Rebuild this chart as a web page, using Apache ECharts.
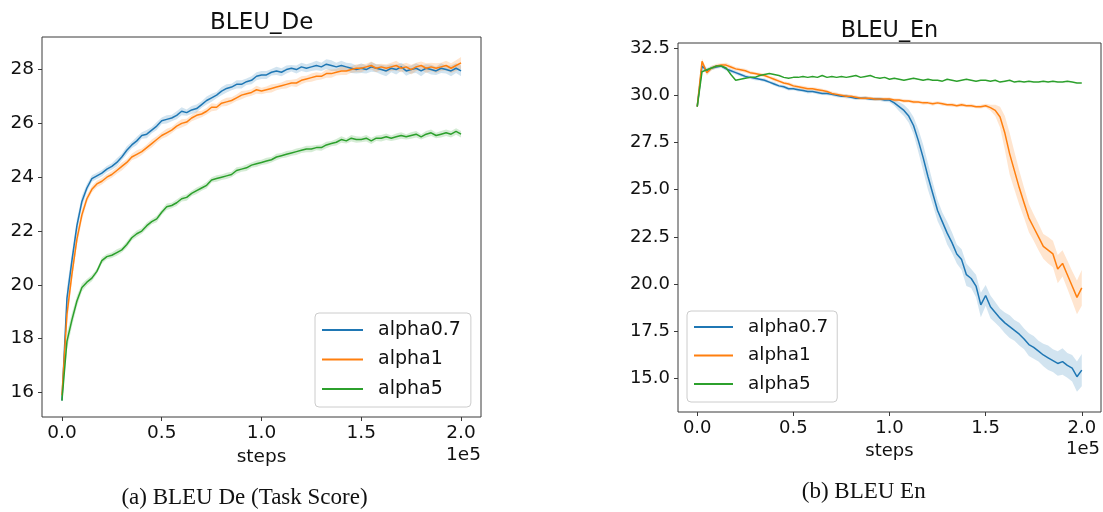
<!DOCTYPE html>
<html>
<head>
<meta charset="utf-8">
<title>BLEU De / BLEU En</title>
<script src="https://cdn.jsdelivr.net/npm/echarts@6/dist/echarts.min.js"></script>
<style>
  html, body { margin: 0; padding: 0; background: #fff; }
  #chart { width: 1103px; height: 512px; }
</style>
</head>
<body>
<div id="chart"></div>
<script>
// training steps, one sample every 2500 steps
const steps = [0, 2500, 5000, 7500, 10000, 12500, 15000, 17500, 20000, 22500,
  25000, 27500, 30000, 32500, 35000, 37500, 40000, 42500, 45000, 47500,
  50000, 52500, 55000, 57500, 60000, 62500, 65000, 67500, 70000, 72500,
  75000, 77500, 80000, 82500, 85000, 87500, 90000, 92500, 95000, 97500,
  100000, 102500, 105000, 107500, 110000, 112500, 115000, 117500, 120000, 122500,
  125000, 127500, 130000, 132500, 135000, 137500, 140000, 142500, 145000, 147500,
  150000, 152500, 155000, 157500, 160000, 162500, 165000, 167500, 170000, 172500,
  175000, 177500, 180000, 182500, 185000, 187500, 190000, 192500, 195000, 197500, 200000]

const seriesNames = ['alpha0.7', 'alpha1', 'alpha5']
const xTicks = [0, 50000, 100000, 150000, 200000]
const deTicks = [16, 18, 20, 22, 24, 26, 28]
const enTicks = [15, 17.5, 20, 22.5, 25, 27.5, 30, 32.5]

// BLEU_De
const deBlue = [15.7, 19.5, 20.9, 22.2, 23.1, 23.6, 23.95, 24.05, 24.15, 24.3,
  24.4, 24.55, 24.75, 25.0, 25.2, 25.35, 25.55, 25.6, 25.75, 25.9,
  26.1, 26.15, 26.2, 26.3, 26.45, 26.4, 26.5, 26.55, 26.7, 26.85,
  26.95, 27.05, 27.2, 27.3, 27.35, 27.45, 27.45, 27.55, 27.6, 27.75,
  27.8, 27.8, 27.9, 27.95, 27.9, 28.0, 28.05, 28.0, 28.1, 28.05,
  28.1, 28.15, 28.1, 28.2, 28.15, 28.1, 28.15, 28.1, 28.05, 28.0,
  28.05, 28.0, 28.1, 28.05, 28.0, 27.95, 28.05, 28.0, 28.1, 27.95,
  28.0, 28.05, 27.95, 28.05, 28.0, 27.95, 28.05, 28.0, 27.95, 28.05, 27.95]
const deOrange = [15.9, 18.9, 20.4, 21.7, 22.6, 23.2, 23.55, 23.75, 23.85, 24.0,
  24.1, 24.25, 24.4, 24.55, 24.75, 24.85, 24.95, 25.1, 25.25, 25.4,
  25.55, 25.65, 25.75, 25.9, 26.0, 26.05, 26.2, 26.3, 26.35, 26.45,
  26.6, 26.6, 26.75, 26.8, 26.85, 26.95, 27.05, 27.1, 27.15, 27.25,
  27.2, 27.25, 27.3, 27.35, 27.4, 27.45, 27.5, 27.5, 27.6, 27.65,
  27.7, 27.75, 27.75, 27.85, 27.85, 27.9, 27.95, 27.95, 28.0, 28.05,
  28.05, 28.1, 28.15, 28.05, 28.1, 28.05, 28.1, 28.15, 28.05, 28.1,
  28.0, 28.1, 28.15, 28.05, 28.1, 28.05, 28.1, 28.15, 28.05, 28.15, 28.25]
const deGreen = [15.7, 17.9, 18.7, 19.4, 19.9, 20.1, 20.25, 20.5, 20.9, 21.05,
  21.1, 21.2, 21.3, 21.5, 21.75, 21.9, 22.0, 22.2, 22.35, 22.45,
  22.7, 22.9, 22.95, 23.05, 23.2, 23.25, 23.4, 23.5, 23.6, 23.7,
  23.9, 23.95, 24.0, 24.05, 24.1, 24.25, 24.3, 24.35, 24.45, 24.5,
  24.55, 24.6, 24.65, 24.75, 24.8, 24.85, 24.9, 24.95, 25.0, 25.05,
  25.05, 25.1, 25.1, 25.2, 25.25, 25.3, 25.4, 25.35, 25.45, 25.4,
  25.4, 25.45, 25.35, 25.45, 25.45, 25.5, 25.45, 25.5, 25.55, 25.5,
  25.55, 25.6, 25.5, 25.6, 25.65, 25.55, 25.6, 25.65, 25.6, 25.7, 25.6]

// BLEU_En
const enBlue = [29.4, 31.55, 31.3, 31.45, 31.5, 31.55, 31.4, 31.3, 31.2, 31.1,
  31.0, 30.95, 30.9, 30.85, 30.8, 30.7, 30.6, 30.5, 30.45, 30.35,
  30.35, 30.3, 30.25, 30.2, 30.2, 30.15, 30.1, 30.1, 30.05, 30.0,
  29.95, 29.95, 29.9, 29.85, 29.85, 29.85, 29.8, 29.8, 29.8, 29.75,
  29.75, 29.6, 29.4, 29.2, 28.9, 28.4, 27.6, 26.7, 25.7, 24.8,
  23.9, 23.3, 22.7, 22.2, 21.6, 21.3, 20.5, 20.3, 19.9, 18.9,
  19.4, 18.8, 18.5, 18.2, 17.95, 17.75, 17.55, 17.35, 17.1, 16.8,
  16.65, 16.45, 16.25, 16.1, 15.95, 15.8, 15.9, 15.7, 15.55, 15.1, 15.45]
const enOrange = [29.4, 31.8, 31.2, 31.45, 31.55, 31.6, 31.6, 31.5, 31.4, 31.35,
  31.3, 31.2, 31.15, 31.1, 31.05, 30.95, 30.85, 30.75, 30.65, 30.6,
  30.5, 30.45, 30.4, 30.35, 30.35, 30.3, 30.25, 30.2, 30.1, 30.05,
  30.0, 29.95, 29.95, 29.9, 29.85, 29.85, 29.85, 29.8, 29.8, 29.8,
  29.8, 29.75, 29.75, 29.7, 29.7, 29.65, 29.65, 29.6, 29.6, 29.55,
  29.6, 29.55, 29.5, 29.5, 29.45, 29.5, 29.45, 29.45, 29.4, 29.4,
  29.45, 29.35, 29.2, 28.85, 28.0, 26.9, 26.0, 25.1, 24.3, 23.5,
  23.0, 22.5, 22.0, 21.8, 21.6, 20.8, 21.1, 20.5, 19.9, 19.3, 19.8]
const enGreen = [29.4, 31.25, 31.35, 31.45, 31.55, 31.55, 31.45, 31.1, 30.8, 30.85,
  30.9, 30.95, 30.95, 31.05, 31.1, 31.15, 31.1, 31.05, 30.95, 30.9,
  30.95, 30.95, 31.0, 30.95, 31.0, 30.95, 31.05, 30.95, 31.0, 30.95,
  31.0, 30.95, 31.0, 31.05, 30.95, 31.0, 31.05, 30.95, 30.9, 30.95,
  30.85, 30.9, 30.85, 30.8, 30.85, 30.9, 30.85, 30.8, 30.85, 30.8,
  30.8, 30.75, 30.85, 30.8, 30.75, 30.8, 30.85, 30.8, 30.75, 30.8,
  30.8, 30.75, 30.8, 30.7, 30.75, 30.8, 30.7, 30.75, 30.7, 30.75,
  30.7, 30.7, 30.75, 30.7, 30.75, 30.7, 30.7, 30.75, 30.7, 30.65, 30.65]

// half width of the shaded bands (spread over runs)
const deBlueSpread = [0.1, 0.4, 0.3, 0.25, 0.2, 0.15, 0.12, 0.12, 0.12, 0.12,
  0.12, 0.15, 0.12, 0.15, 0.12, 0.15, 0.12, 0.15, 0.12, 0.15,
  0.12, 0.15, 0.12, 0.15, 0.15, 0.12, 0.15, 0.15, 0.12, 0.15,
  0.15, 0.12, 0.15, 0.15, 0.12, 0.15, 0.15, 0.12, 0.15, 0.15,
  0.15, 0.15, 0.12, 0.15, 0.15, 0.15, 0.12, 0.15, 0.15, 0.15,
  0.15, 0.18, 0.15, 0.18, 0.2, 0.15, 0.18, 0.15, 0.18, 0.15,
  0.18, 0.15, 0.18, 0.15, 0.18, 0.2, 0.15, 0.18, 0.15, 0.18,
  0.15, 0.18, 0.2, 0.15, 0.18, 0.15, 0.18, 0.15, 0.2, 0.18, 0.2]
const deOrangeSpread = [0.1, 0.35, 0.3, 0.25, 0.2, 0.15, 0.12, 0.12, 0.12, 0.12,
  0.12, 0.12, 0.15, 0.12, 0.12, 0.15, 0.12, 0.12, 0.15, 0.12,
  0.12, 0.15, 0.12, 0.12, 0.15, 0.12, 0.12, 0.15, 0.12, 0.12,
  0.15, 0.12, 0.12, 0.15, 0.12, 0.12, 0.15, 0.12, 0.12, 0.15,
  0.12, 0.12, 0.15, 0.12, 0.12, 0.15, 0.12, 0.15, 0.15, 0.12,
  0.15, 0.15, 0.12, 0.15, 0.15, 0.12, 0.15, 0.15, 0.12, 0.15,
  0.15, 0.12, 0.15, 0.15, 0.12, 0.15, 0.15, 0.18, 0.15, 0.15,
  0.18, 0.15, 0.15, 0.18, 0.15, 0.18, 0.15, 0.18, 0.18, 0.2, 0.22]
const deGreenSpread = [0.05, 0.3, 0.25, 0.2, 0.15, 0.12, 0.12, 0.1, 0.12, 0.1,
  0.1, 0.12, 0.1, 0.12, 0.1, 0.12, 0.1, 0.12, 0.1, 0.12,
  0.1, 0.12, 0.1, 0.12, 0.1, 0.12, 0.1, 0.12, 0.1, 0.12,
  0.1, 0.12, 0.1, 0.12, 0.1, 0.12, 0.1, 0.12, 0.1, 0.12,
  0.1, 0.12, 0.1, 0.12, 0.1, 0.12, 0.1, 0.12, 0.1, 0.12,
  0.12, 0.1, 0.12, 0.12, 0.1, 0.12, 0.12, 0.1, 0.12, 0.12,
  0.1, 0.12, 0.12, 0.1, 0.12, 0.12, 0.1, 0.12, 0.12, 0.1,
  0.12, 0.12, 0.1, 0.12, 0.12, 0.1, 0.12, 0.12, 0.12, 0.12, 0.12]
const enBlueSpread = [0.05, 0.15, 0.15, 0.12, 0.1, 0.1, 0.1, 0.1, 0.1, 0.1,
  0.1, 0.08, 0.1, 0.08, 0.1, 0.08, 0.1, 0.08, 0.1, 0.1,
  0.08, 0.1, 0.08, 0.1, 0.08, 0.1, 0.08, 0.1, 0.08, 0.1,
  0.08, 0.1, 0.08, 0.1, 0.08, 0.1, 0.08, 0.1, 0.1, 0.1,
  0.12, 0.15, 0.25, 0.3, 0.35, 0.45, 0.6, 0.7, 0.7, 0.6,
  0.55, 0.5, 0.6, 0.55, 0.5, 0.55, 0.6, 0.5, 0.6, 0.65,
  0.55, 0.6, 0.55, 0.5, 0.55, 0.6, 0.55, 0.6, 0.55, 0.6,
  0.6, 0.55, 0.6, 0.65, 0.6, 0.65, 0.7, 0.65, 0.7, 0.8, 0.85]
const enOrangeSpread = [0.05, 0.15, 0.15, 0.12, 0.12, 0.1, 0.12, 0.1, 0.1, 0.1,
  0.1, 0.1, 0.08, 0.1, 0.1, 0.08, 0.1, 0.1, 0.08, 0.1,
  0.1, 0.08, 0.1, 0.1, 0.08, 0.1, 0.1, 0.08, 0.1, 0.1,
  0.08, 0.1, 0.08, 0.1, 0.08, 0.1, 0.08, 0.1, 0.08, 0.1,
  0.08, 0.1, 0.08, 0.1, 0.08, 0.1, 0.08, 0.1, 0.08, 0.1,
  0.08, 0.1, 0.08, 0.1, 0.08, 0.1, 0.08, 0.1, 0.08, 0.1,
  0.1, 0.15, 0.3, 0.55, 0.9, 1.1, 1.0, 0.9, 0.8, 0.75,
  0.7, 0.7, 0.65, 0.7, 0.7, 0.75, 0.7, 0.75, 0.8, 0.9, 0.95]

const colors = ['#1f77b4', '#ff7f0e', '#2ca02c']
const FONT = '"DejaVu Sans", sans-serif'
const SERIF = '"Liberation Serif", "Times New Roman", serif'
const INK = '#111'
const FRAME = '#3a3a3a'

const pairs = vals => steps.map((s, i) => [s, vals[i]])

const lineSeries = (name, vals, color, idx) => ({
  name,
  type: 'line',
  xAxisIndex: idx,
  yAxisIndex: idx,
  data: pairs(vals),
  symbol: 'none',
  showSymbol: false,
  smooth: false,
  lineStyle: { color, width: 1.5 },
  itemStyle: { color },
  z: 3,
})

// shaded band: one polygon through mean +/- spread, placed with the axis scales
const bandSeries = (vals, spread, color, idx) => ({
  type: 'custom',
  xAxisIndex: idx,
  yAxisIndex: idx,
  silent: true,
  z: 2,
  data: steps.map((s, i) => [s, vals[i] - spread[i], vals[i] + spread[i]]),
  encode: { x: 0, y: [1, 2] },
  renderItem: (params, api) => {
    if (params.dataIndex !== 0) return null
    const upper = steps.map((s, i) => api.coord([s, vals[i] + spread[i]]))
    const lower = steps.map((s, i) => api.coord([s, vals[i] - spread[i]])).reverse()
    return {
      type: 'polygon',
      shape: { points: upper.concat(lower) },
      style: { fill: color, opacity: 0.2 },
    }
  },
})

const xAxisFor = (idx, fontSize, labelMargin, nameGap) => ({
  type: 'value',
  gridIndex: idx,
  min: -10000,
  max: 210000,
  name: 'steps',
  nameLocation: 'middle',
  nameGap,
  nameTextStyle: { fontFamily: FONT, fontSize, color: INK },
  axisLine: { show: false, onZero: false },
  splitLine: { show: false },
  axisTick: { show: true, inside: false, length: 4, customValues: xTicks, lineStyle: { color: FRAME, width: 1 } },
  axisLabel: {
    customValues: xTicks,
    margin: labelMargin,
    fontFamily: FONT,
    fontSize,
    color: INK,
    formatter: v => (v / 1e5).toFixed(1),
  },
})

const yAxisFor = (idx, min, max, ticks, fontSize, digits) => ({
  type: 'value',
  gridIndex: idx,
  min,
  max,
  axisLine: { show: false, onZero: false },
  splitLine: { show: false },
  axisTick: { show: true, inside: false, length: 4, customValues: ticks, lineStyle: { color: FRAME, width: 1 } },
  axisLabel: {
    customValues: ticks,
    margin: 8,
    fontFamily: FONT,
    fontSize,
    color: INK,
    formatter: v => Number(v).toFixed(digits),
  },
})

const legendFor = (left, top, lineW, gap, fontSize, padding) => ({
  data: seriesNames,
  orient: 'vertical',
  left,
  top,
  icon: 'rect',
  itemWidth: lineW,
  itemHeight: 2,
  itemGap: gap,
  padding,
  selectedMode: false,
  backgroundColor: 'rgba(255,255,255,0.8)',
  borderColor: '#cccccc',
  borderWidth: 1,
  borderRadius: 4,
  itemStyle: { borderWidth: 0 },
  textStyle: { fontFamily: FONT, fontSize, color: INK, lineHeight: 20, padding: [0, 0, 0, 10] },
})

const textEl = (text, x, y, font, align) => ({
  type: 'text',
  x,
  y,
  silent: true,
  style: { text, font, fill: INK, align, verticalAlign: 'middle' },
})

const option = {
  animation: false,
  backgroundColor: '#fff',
  grid: [
    { left: 42, top: 37, width: 439, height: 380, show: true, borderColor: FRAME, borderWidth: 1, backgroundColor: 'transparent' },
    { left: 678, top: 43, width: 423, height: 369, show: true, borderColor: FRAME, borderWidth: 1, backgroundColor: 'transparent' },
  ],
  xAxis: [
    xAxisFor(0, 18.5, 7, 30.5),
    xAxisFor(1, 18, 7, 28.5),
  ],
  yAxis: [
    yAxisFor(0, 15.09, 29.21, deTicks, 18.5, 0),
    yAxisFor(1, 13.23, 32.77, enTicks, 18, 1),
  ],
  legend: [
    legendFor(315, 313, 41, 9.5, 19, [7, 10, 8, 7]),
    legendFor(687, 311, 39, 8.5, 18.4, [6, 9, 8, 7]),
  ],
  graphic: [
    textEl('BLEU_De', 261.7, 23, '23px ' + FONT, 'center'),
    textEl('BLEU_En', 889.5, 31, '22.3px ' + FONT, 'center'),
    textEl('1e5', 481, 455.5, '18.5px ' + FONT, 'right'),
    textEl('1e5', 1100, 449, '18px ' + FONT, 'right'),
    textEl('(a) BLEU De (Task Score)', 244.5, 498, '23px ' + SERIF, 'center'),
    textEl('(b) BLEU En', 863.7, 491.5, '23px ' + SERIF, 'center'),
  ],
  series: [
    bandSeries(deBlue, deBlueSpread, colors[0], 0),
    bandSeries(deOrange, deOrangeSpread, colors[1], 0),
    bandSeries(deGreen, deGreenSpread, colors[2], 0),
    lineSeries(seriesNames[0], deBlue, colors[0], 0),
    lineSeries(seriesNames[1], deOrange, colors[1], 0),
    lineSeries(seriesNames[2], deGreen, colors[2], 0),
    bandSeries(enBlue, enBlueSpread, colors[0], 1),
    bandSeries(enOrange, enOrangeSpread, colors[1], 1),
    lineSeries(seriesNames[0], enBlue, colors[0], 1),
    lineSeries(seriesNames[1], enOrange, colors[1], 1),
    lineSeries(seriesNames[2], enGreen, colors[2], 1),
  ],
}

const chart = echarts.init(document.getElementById('chart'), null, { renderer: 'canvas' })
chart.setOption(option)
window.addEventListener('resize', () => chart.resize())
</script>
</body>
</html>
